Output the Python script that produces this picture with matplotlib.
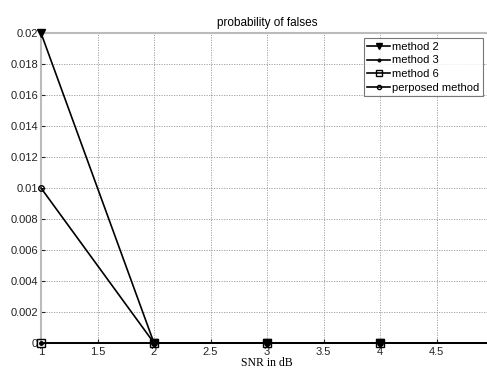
import matplotlib
matplotlib.use("Agg")
import matplotlib.pyplot as plt
from matplotlib.ticker import FixedLocator, FixedFormatter

snr = [1, 2, 3, 4, 5]
method2 = [0.02, 0, 0, 0, 0]
method3 = [0, 0, 0, 0, 0]
method6 = [0, 0, 0, 0, 0]
proposed = [0.01, 0, 0, 0, 0]
labels = ["method 2", "method 3", "method 6", "perposed method"]

xticks = [1, 1.5, 2, 2.5, 3, 3.5, 4, 4.5]
xticklabels = ["1", "1.5", "2", "2.5", "3", "3.5", "4", "4.5"]
yticks = [0, 0.002, 0.004, 0.006, 0.008, 0.01, 0.012, 0.014, 0.016, 0.018, 0.02]
yticklabels = ["0", "0.002", "0.004", "0.006", "0.008", "0.01", "0.012", "0.014", "0.016", "0.018", "0.02"]

plt.rcParams["font.family"] = ["Liberation Sans", "DejaVu Sans"]

fig = plt.figure(figsize=(4.87, 3.70), dpi=100)
ax = fig.add_axes([41/487, 1-343/370, (493-41)/487, (343-33)/370])

lw = 1.2
ax.plot(snr, method2, color="black", lw=lw, marker="v", ms=5.5, mfc="black", label=labels[0], clip_on=False, zorder=3)
ax.plot(snr, method3, color="black", lw=lw, marker=".", ms=5, mfc="black", label=labels[1], clip_on=False, zorder=3)
ax.plot(snr, method6, color="black", lw=lw, marker="s", ms=5.5, mfc="none", label=labels[2], clip_on=False, zorder=3)
ax.plot(snr, proposed, color="black", lw=lw, marker="o", ms=4, mfc="none", label=labels[3], clip_on=False, zorder=3)

ax.set_xlim(1, 5)
ax.set_ylim(0, 0.02)
ax.xaxis.set_major_locator(FixedLocator(xticks))
ax.xaxis.set_major_formatter(FixedFormatter(xticklabels))
ax.yaxis.set_major_locator(FixedLocator(yticks))
ax.yaxis.set_major_formatter(FixedFormatter(yticklabels))
ax.tick_params(direction="in", length=3, labelsize=8, colors="#222222", pad=2)
ax.tick_params(axis="x", pad=3)
ax.grid(True, linestyle=(0, (1.5, 1.5)), color="#999999", linewidth=0.6)
for s in ax.spines.values():
    s.set_color("#bbbbbb")
    s.set_linewidth(1.5)

ax.set_title("probability of falses", fontsize=8.5, pad=5)
ax.set_xlabel("SNR in dB", fontsize=8.5, family="Liberation Serif", labelpad=0)

leg = fig.legend(loc="upper right", bbox_to_anchor=(483/487, 1-38/370), fontsize=8,
                 frameon=True, fancybox=False, handlelength=2.0, handletextpad=0.2,
                 borderpad=0.35, labelspacing=0.32, borderaxespad=0, markerscale=0.75)
leg.get_frame().set_edgecolor("#555555")
leg.get_frame().set_linewidth(0.8)

fig.savefig("out.png", dpi=100)
